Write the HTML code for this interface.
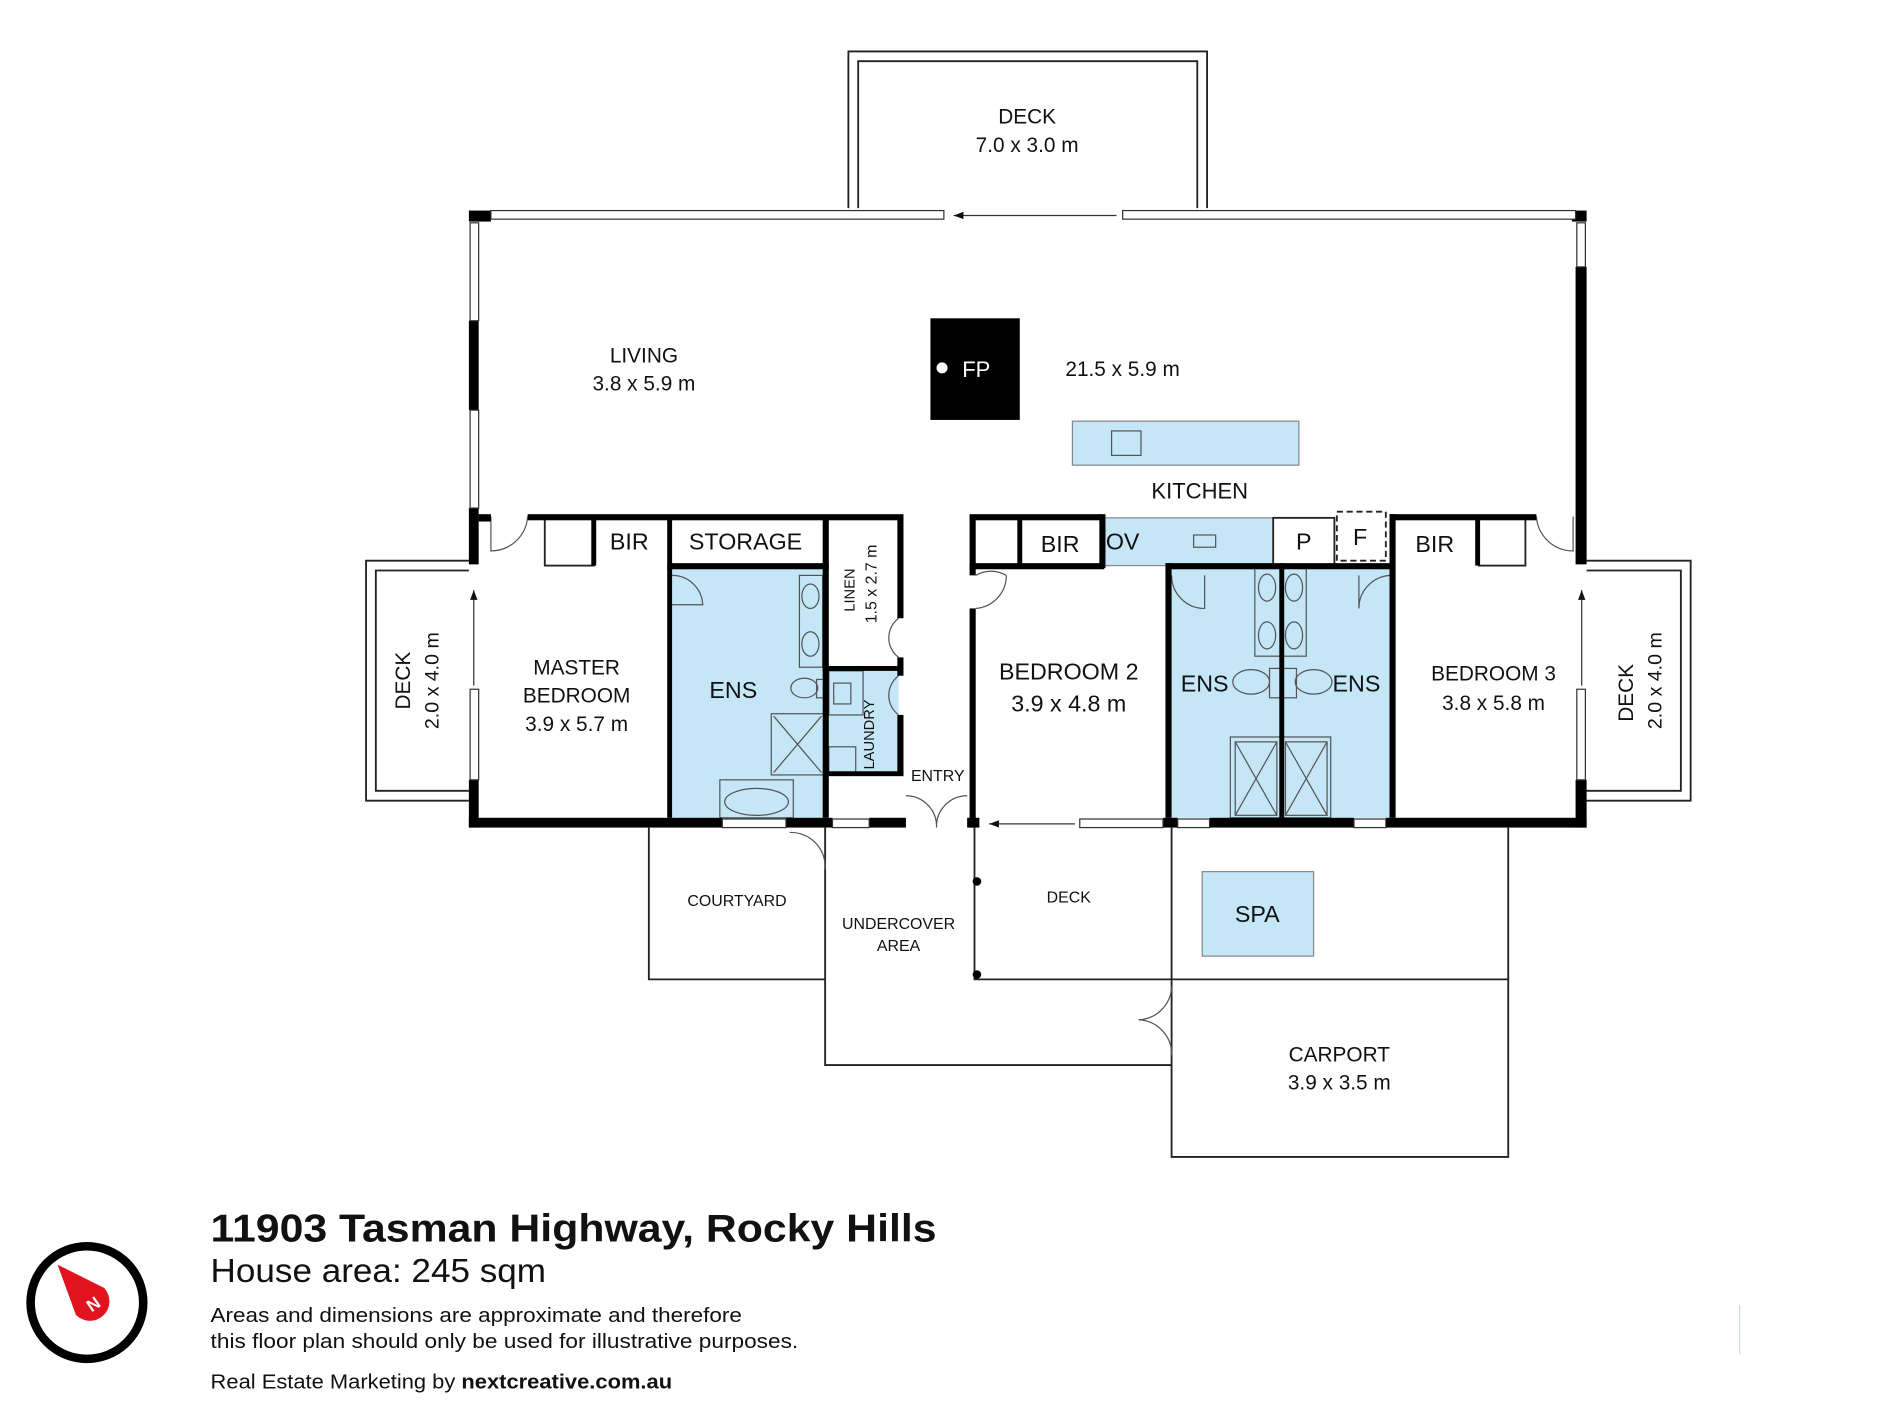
<!DOCTYPE html>
<html><head><meta charset="utf-8"><style>
html,body{margin:0;padding:0;background:#fff;width:1900px;height:1425px;overflow:hidden}
svg{display:block}
text{font-family:"Liberation Sans",sans-serif;fill:#111}
</style></head><body>
<svg width="1900" height="1425" viewBox="0 0 1552 1164" preserveAspectRatio="none" xmlns="http://www.w3.org/2000/svg">
<defs><marker id="ah" markerWidth="8" markerHeight="6" refX="8" refY="3" orient="auto" markerUnits="userSpaceOnUse"><path d="M0,0 L8,3 L0,6 z" fill="#111"/></marker></defs>
<g fill="none" stroke="#222" stroke-width="1.5">
<path d="M693,170 V42 H986 V170"/><path d="M701,170 V50 H978 V170"/>
<path d="M383,458 H299 V654 H383"/><path d="M383,466 H307 V646 H383"/>
<path d="M1296,458 H1381 V654 H1296"/><path d="M1296,466 H1373 V646 H1296"/>
<path d="M530,676 V800 H674"/><path d="M674,676 V870 H957"/>
<path d="M796,676 V800 H957"/>
<path d="M957,676 V945 H1232 V676"/><path d="M957,800 H1232"/>
</g>
<g fill="#c5e6f6" stroke="#888" stroke-width="1">
<rect x="549" y="464" width="124" height="204" stroke="none"/>
<rect x="677" y="548" width="57" height="84" stroke="none"/>
<rect x="955" y="464" width="182" height="204" stroke="none"/>
<rect x="900" y="423" width="140" height="39"/>
<rect x="876" y="344" width="185" height="36"/>
<rect x="982" y="712" width="91" height="69"/>
</g>
<g fill="none" stroke="#555" stroke-width="1">
<rect x="908" y="352" width="24" height="20"/><rect x="975" y="437" width="18" height="10"/>
<rect x="653" y="470" width="19" height="75"/><ellipse cx="662" cy="487" rx="7" ry="10"/><ellipse cx="662" cy="526" rx="7" ry="10"/>
<ellipse cx="657" cy="562" rx="11" ry="8"/><rect x="667" y="555" width="6" height="15"/>
<rect x="630" y="583" width="43" height="50"/><path d="M632,585 L671,631 M671,585 L632,631"/>
<rect x="588" y="637" width="60" height="31"/><ellipse cx="618" cy="655" rx="26" ry="11"/>
<rect x="677" y="548" width="28" height="36"/><rect x="681" y="558" width="14" height="17"/><rect x="677" y="610" width="22" height="22"/>
<rect x="1025" y="464" width="42" height="72"/><ellipse cx="1035" cy="480" rx="7" ry="11"/><ellipse cx="1057" cy="480" rx="7" ry="11"/><ellipse cx="1035" cy="519" rx="7" ry="11"/><ellipse cx="1057" cy="519" rx="7" ry="11"/>
<ellipse cx="1022" cy="557" rx="15" ry="10"/><ellipse cx="1073" cy="557" rx="15" ry="10"/><rect x="1037" y="546" width="22" height="24"/>
<rect x="1005" y="602" width="82" height="66"/><rect x="1009" y="606" width="34" height="60"/><rect x="1050" y="606" width="34" height="60"/>
<path d="M1009,606 L1043,666 M1043,606 L1009,666 M1050,606 L1084,666 M1084,606 L1050,666"/>
<path d="M401,422 V450 A30,30 0 0 0 431,422"/>
<path d="M549,470 A25,25 0 0 1 574,494 H549"/>
<path d="M734,505 A20,20 0 0 0 734,537"/><path d="M734,552 A20,20 0 0 0 734,584"/>
<path d="M797,470 A25,25 0 0 1 822,470 M797,497 A27,27 0 0 0 822,470"/>
<path d="M957,470 A27,27 0 0 0 984,497 V470"/><path d="M1137,470 A27,27 0 0 0 1110,497 V470"/>
<path d="M1285,422 V450 A30,30 0 0 1 1255,422"/>
<path d="M645,680 A28,28 0 0 1 674,710"/>
<path d="M740,650 A25,25 0 0 1 765,676 A25,25 0 0 1 790,650"/>
<path d="M957,806 A28,28 0 0 1 930,833 A28,28 0 0 1 957,862"/>
</g>
<g fill="#fff" stroke="#222" stroke-width="1.5">
<rect x="445" y="422" width="40" height="40"/><rect x="1208" y="424" width="38" height="38"/>
<rect x="1040" y="423" width="50" height="39"/>
<rect x="1092" y="418" width="40" height="40" stroke-dasharray="5,3"/>
</g>
<g fill="#000">
<rect x="383" y="172" width="18" height="9"/><rect x="1284" y="172" width="12" height="9"/>
<rect x="383" y="262" width="8" height="73"/><rect x="383" y="415" width="8" height="46"/><rect x="383" y="637" width="8" height="39"/>
<rect x="1287" y="218" width="9" height="243"/><rect x="1287" y="637" width="9" height="39"/>
<rect x="383" y="668" width="207" height="8"/><rect x="642" y="668" width="38" height="8"/><rect x="710" y="668" width="30" height="8"/>
<rect x="790" y="668" width="10" height="8"/><rect x="950" y="668" width="12" height="8"/><rect x="988" y="668" width="118" height="8"/><rect x="1132" y="668" width="164" height="8"/>
<rect x="391" y="420" width="10" height="6"/><rect x="431" y="420" width="307" height="5"/>
<rect x="483" y="422" width="4" height="40"/><rect x="545" y="422" width="4" height="246"/><rect x="545" y="460" width="132" height="5"/>
<rect x="672" y="422" width="5" height="246"/><rect x="733" y="422" width="5" height="83"/><rect x="733" y="537" width="5" height="15"/><rect x="672" y="544" width="66" height="4"/><rect x="733" y="584" width="5" height="48"/><rect x="672" y="630" width="66" height="4"/>
<rect x="792" y="420" width="108" height="5"/><rect x="792" y="422" width="5" height="48"/><rect x="792" y="497" width="5" height="179"/><rect x="831" y="422" width="4" height="40"/><rect x="792" y="460" width="110" height="5"/>
<rect x="898" y="420" width="5" height="44"/><rect x="952" y="460" width="186" height="5"/><rect x="952" y="460" width="5" height="208"/><rect x="1045" y="460" width="4" height="208"/><rect x="1135" y="420" width="5" height="248"/><rect x="1135" y="420" width="120" height="5"/><rect x="1205" y="422" width="4" height="40"/>
<rect x="760" y="260" width="73" height="83"/>
<circle cx="798" cy="720" r="3.5"/><circle cx="798" cy="796" r="3.5"/>
</g>
<g fill="#fff" stroke="#333" stroke-width="1">
<rect x="401" y="172" width="370" height="7"/><rect x="917" y="172" width="370" height="7"/>
<rect x="384" y="182" width="7" height="80"/><rect x="384" y="335" width="7" height="80"/><rect x="384" y="563" width="7" height="74"/>
<rect x="1288" y="182" width="7" height="36"/><rect x="1288" y="563" width="7" height="74"/>
<rect x="590" y="669" width="52" height="7"/><rect x="680" y="669" width="30" height="7"/><rect x="882" y="669" width="68" height="7"/><rect x="962" y="669" width="26" height="7"/><rect x="1106" y="669" width="26" height="7"/>
</g>
<g stroke="#333" stroke-width="1" fill="none">
<line x1="912" y1="176" x2="779" y2="176" marker-end="url(#ah)"/>
<line x1="878" y1="673" x2="808" y2="673" marker-end="url(#ah)"/>
<line x1="387" y1="560" x2="387" y2="482" marker-end="url(#ah)"/>
<line x1="1292" y1="560" x2="1292" y2="482" marker-end="url(#ah)"/>
</g>
<g text-anchor="middle" font-size="17">
<text x="839" y="101">DECK</text><text x="839" y="124">7.0 x 3.0 m</text>
<text x="526" y="296">LIVING</text><text x="526" y="319">3.8 x 5.9 m</text>
<text x="917" y="307">21.5 x 5.9 m</text>
<text x="980" y="407" font-size="18">KITCHEN</text>
<text x="514" y="449" font-size="19">BIR</text><text x="609" y="449" font-size="19">STORAGE</text>
<text x="866" y="451" font-size="19">BIR</text><text x="917" y="449" font-size="19">OV</text><text x="1065" y="449" font-size="19">P</text><text x="1111" y="445" font-size="19">F</text><text x="1172" y="451" font-size="19">BIR</text>
<text x="471" y="551">MASTER</text><text x="471" y="574">BEDROOM</text><text x="471" y="597">3.9 x 5.7 m</text>
<text x="599" y="570" font-size="19">ENS</text>
<text x="873" y="555" font-size="19">BEDROOM 2</text><text x="873" y="581" font-size="19">3.9 x 4.8 m</text>
<text x="984" y="565" font-size="19">ENS</text><text x="1108" y="565" font-size="19">ENS</text>
<text x="1220" y="556">BEDROOM 3</text><text x="1220" y="580">3.8 x 5.8 m</text>
<text x="766" y="638" font-size="13">ENTRY</text>
<text x="602" y="740" font-size="13">COURTYARD</text>
<text x="734" y="759" font-size="13">UNDERCOVER</text><text x="734" y="777" font-size="13">AREA</text>
<text x="873" y="737" font-size="13">DECK</text>
<text x="1027" y="753" font-size="19">SPA</text>
<text x="1094" y="867">CARPORT</text><text x="1094" y="890">3.9 x 3.5 m</text>
<text transform="translate(335,556) rotate(-90)" font-size="17">DECK</text>
<text transform="translate(358,556) rotate(-90)" font-size="16">2.0 x 4.0 m</text>
<text transform="translate(1334,566) rotate(-90)" font-size="17">DECK</text>
<text transform="translate(1357,556) rotate(-90)" font-size="16">2.0 x 4.0 m</text>
<text transform="translate(698,482) rotate(-90)" font-size="12">LINEN</text>
<text transform="translate(716,477) rotate(-90)" font-size="13">1.5 x 2.7 m</text>
<text transform="translate(714,600) rotate(-90)" font-size="12">LAUNDRY</text>
</g>
<rect x="765" y="296" width="9" height="9" rx="4.5" fill="#fff"/>
<text x="786" y="308" font-size="18" style="fill:#fff">FP</text>
<text x="172" y="1014" font-size="32" font-weight="bold" textLength="593" lengthAdjust="spacingAndGlyphs">11903 Tasman Highway, Rocky Hills</text>
<text x="172" y="1047" font-size="27" textLength="274" lengthAdjust="spacingAndGlyphs">House area: 245 sqm</text>
<text x="172" y="1080" font-size="16.5" textLength="434" lengthAdjust="spacingAndGlyphs">Areas and dimensions are approximate and therefore</text>
<text x="172" y="1101" font-size="16.5" textLength="480" lengthAdjust="spacingAndGlyphs">this floor plan should only be used for illustrative purposes.</text>
<text x="172" y="1134" font-size="16.5" textLength="377" lengthAdjust="spacingAndGlyphs">Real Estate Marketing by <tspan font-weight="bold">nextcreative.com.au</tspan></text>
<circle cx="71" cy="1064" r="46" fill="none" stroke="#000" stroke-width="7"/>
<path d="M47,1033 L85,1052 A15,15 0 1 1 62,1074 Z" fill="#e1131f"/>
<text x="72" y="1073" font-size="14" font-weight="bold" style="fill:#fff" transform="rotate(-35 72 1068)">N</text>
<line x1="1421" y1="1066" x2="1421" y2="1106" stroke="#cde" stroke-width="1"/>
</svg>
</body></html>
